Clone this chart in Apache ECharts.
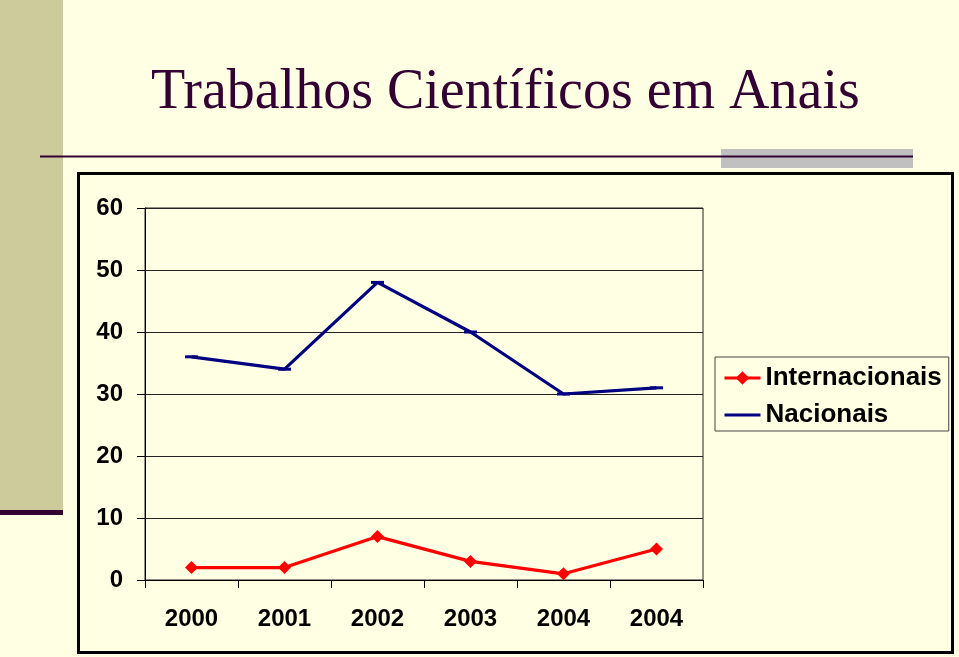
<!DOCTYPE html>
<html>
<head>
<meta charset="utf-8">
<script src="https://cdn.jsdelivr.net/npm/echarts@6/dist/echarts.min.js"></script>
<style>
html,body{margin:0;padding:0;background:#FFFFE3;}
#c{width:959px;height:657px;}
</style>
</head>
<body>
<div id="c"></div>
<script>
const titleText = 'Trabalhos Científicos em Anais';
const categories = ['2000', '2001', '2002', '2003', '2004', '2004'];
const internacionais = [2, 2, 7, 3, 1, 5];
const nacionais = [36, 34, 48, 40, 30, 31];
const yTicks = { min: 0, max: 60, interval: 10 };

const chart = echarts.init(document.getElementById('c'), null, { renderer: 'canvas' });
const labelFont = { fontFamily: '"Liberation Sans", Arial, sans-serif', fontWeight: 'bold', fontSize: 24, color: '#000' };

chart.setOption({
  backgroundColor: '#FFFFE3',
  animation: false,
  title: {
    text: titleText,
    left: 151,
    top: 65,
    padding: 0,
    textStyle: { fontFamily: '"Liberation Serif", "Times New Roman", serif', fontWeight: 'normal', fontSize: 56, color: '#330033' }
  },
  graphic: [
    { type: 'rect', z: -10, shape: { x: 0, y: 0, width: 63, height: 511 }, style: { fill: '#CDCB9C' } },
    { type: 'rect', z: -9, shape: { x: 0, y: 510, width: 63, height: 5 }, style: { fill: '#330033' } },
    { type: 'rect', z: -9, shape: { x: 721, y: 149, width: 192, height: 19 }, style: { fill: '#C0C0C0' } },
    { type: 'rect', z: -8, shape: { x: 40, y: 155.5, width: 873, height: 2 }, style: { fill: '#330033' } },
    { type: 'rect', z: -5, shape: { x: 78.5, y: 173.5, width: 874, height: 479 }, style: { fill: 'none', stroke: '#000', lineWidth: 3 } }
  ],
  grid: {
    left: 145, top: 208, right: 256, bottom: 77,
    show: true, borderColor: '#222', borderWidth: 1, backgroundColor: 'transparent'
  },
  legend: {
    orient: 'vertical',
    left: 715, top: 357,
    padding: [8, 7, 3, 8],
    itemWidth: 36, itemHeight: 17, itemGap: 11,
    borderColor: '#444', borderWidth: 1, backgroundColor: '#FFFFE3',
    textStyle: { fontFamily: '"Liberation Sans", Arial, sans-serif', fontWeight: 'bold', fontSize: 26, color: '#000', lineHeight: 25 },
    data: [
      { name: 'Internacionais', lineStyle: { width: 3 } },
      { name: 'Nacionais', itemStyle: { opacity: 0 }, lineStyle: { width: 3 } }
    ]
  },
  xAxis: {
    type: 'category',
    data: categories,
    boundaryGap: true,
    axisLine: { lineStyle: { color: '#000', width: 1 } },
    axisTick: { show: true, length: 8, lineStyle: { color: '#000' } },
    axisLabel: Object.assign({ margin: 27 }, labelFont),
    splitLine: { show: false }
  },
  yAxis: {
    type: 'value',
    min: yTicks.min, max: yTicks.max, interval: yTicks.interval,
    axisLine: { show: true, lineStyle: { color: '#000', width: 1 } },
    axisTick: { show: true, length: 8, lineStyle: { color: '#000' } },
    axisLabel: Object.assign({ margin: 22 }, labelFont),
    splitLine: { show: true, lineStyle: { color: '#222', width: 1 } }
  },
  series: [
    {
      name: 'Internacionais', type: 'line', data: internacionais,
      symbol: 'diamond', symbolSize: 13,
      lineStyle: { color: '#FF0000', width: 3.2 },
      itemStyle: { color: '#FF0000' }
    },
    {
      name: 'Nacionais', type: 'line', data: nacionais,
      symbol: 'rect', symbolSize: [13, 3],
      lineStyle: { color: '#000080', width: 3.2 },
      itemStyle: { color: '#000080' }
    }
  ]
});
</script>
</body>
</html>
